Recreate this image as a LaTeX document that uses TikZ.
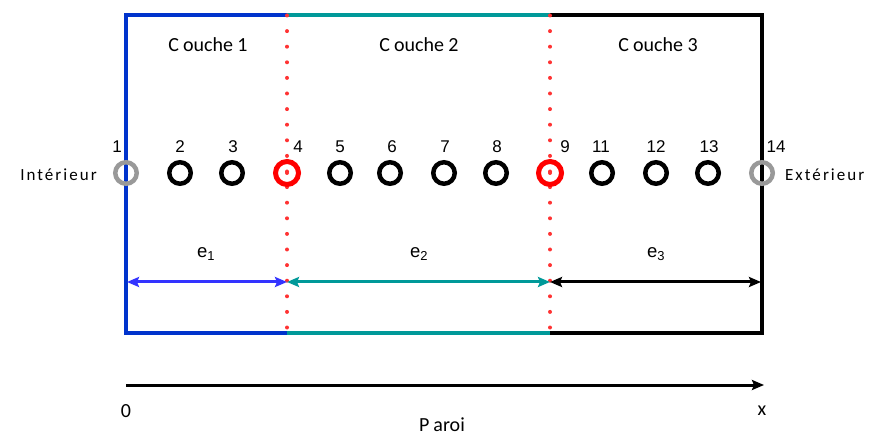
\documentclass[tikz,border=0pt]{standalone}
\usepackage{fontspec}
\setmainfont{Liberation Sans}
\newfontfamily\cali{Carlito}
\newfontfamily\calisp[LetterSpace=12]{Carlito}
\usetikzlibrary{arrows.meta}
\definecolor{wblue}{RGB}{0,51,204}
\definecolor{ablue}{RGB}{51,51,255}
\definecolor{wteal}{RGB}{0,153,153}
\definecolor{dred}{RGB}{255,51,51}
\definecolor{cgray}{RGB}{153,153,153}
\begin{document}
\begin{tikzpicture}[x=1pt,y=-1pt,
  txt/.style={font=\fontsize{17}{19}\selectfont, inner sep=0pt},
  etxt/.style={font=\fontsize{18.5}{20}\selectfont, inner sep=0pt},
  ttl/.style={font=\cali\fontsize{20}{22}\selectfont, inner sep=0pt},
  side/.style={font=\calisp\fontsize{17}{19}\selectfont, inner sep=0pt},
  pt/.style={circle, draw=black, line width=4.5pt, minimum size=21.5pt, inner sep=0pt},
  ptg/.style={pt, draw=cgray},
  ptr/.style={pt, draw=red, line width=5pt, minimum size=23pt},
  wall/.style={line width=4pt},
  dots/.style={dred, line width=4pt, line cap=round, dash pattern=on 0pt off 15.6pt},
  dim/.style={line width=3pt, {Stealth[length=12pt,width=10pt,inset=2pt]}-{Stealth[length=12pt,width=10pt,inset=2pt]}}
]
\useasboundingbox (0,0) rectangle (880,435);
% walls
\draw[wall, wblue] (287,15) -- (126,15) -- (126,333) -- (287,333);
\draw[wall, wteal] (287,15) -- (550,15);
\draw[wall, wteal] (287,333) -- (550,333);
\draw[wall, black] (550,15) -- (762,15) -- (762,333) -- (550,333);
% dotted interfaces
\draw[dots] (287,15.5) -- (287,333);
\draw[dots] (550,15.5) -- (550,333);
% layer titles
\node[ttl] (c1) at (208,45) {C\kern4pt ouche 1};
\node[ttl] (c2) at (419,45) {C\kern4pt ouche 2};
\node[ttl] (c3) at (658,45) {C\kern4pt ouche 3};
% points
\node[ptg] (p1) at (126,173) {};
\node[pt] (p2) at (180,173) {};
\node[pt] (p3) at (232,173) {};
\node[ptr] (p4) at (287,173) {};
\node[pt] (p5) at (340,173) {};
\node[pt] (p6) at (390,173) {};
\node[pt] (p7) at (444,173) {};
\node[pt] (p8) at (496,173) {};
\node[ptr] (p9) at (550,173) {};
\node[pt] (p11) at (602,173) {};
\node[pt] (p12) at (656,173) {};
\node[pt] (p13) at (708,173) {};
\node[ptg] (p14) at (762,173) {};
\fill[dred] (287,173) circle (2pt);
\fill[dred] (550,173) circle (2pt);
% numbers
\node[txt] (n1) at (117,147) {1};
\node[txt] (n2) at (180,147) {2};
\node[txt] (n3) at (233,147) {3};
\node[txt] (n4) at (298,147) {4};
\node[txt] (n5) at (340,147) {5};
\node[txt] (n6) at (392,147) {6};
\node[txt] (n7) at (445,147) {7};
\node[txt] (n8) at (497,147) {8};
\node[txt] (n9) at (565,147) {9};
\node[txt] (n11) at (601,147) {11};
\node[txt] (n12) at (656,147) {12};
\node[txt] (n13) at (709,147) {13};
\node[txt] (n14) at (776,147) {14};
\node[side, anchor=east] (int) at (97,175) {Intérieur};
\node[side, anchor=west] (ext) at (785,175) {E\kern2pt xtérieur};
% dimension labels
\node[etxt] (e1) at (206,254) {e\textsubscript{1}};
\node[etxt] (e2) at (419,254) {e\textsubscript{2}};
\node[etxt] (e3) at (656,254) {e\textsubscript{3}};
% dimension arrows
\coordinate (a0) at (127,282);
\coordinate (a1) at (287,282);
\coordinate (a2) at (550,282);
\coordinate (a3) at (761,282);
\draw[dim, ablue] (a0) -- (a1);
\draw[dim, wteal] (a1) -- (a2);
\draw[dim, black] (a2) -- (a3);
% axis
\coordinate (o) at (126,385);
\coordinate (xe) at (764,385);
\draw[line width=3pt, -{Stealth[length=12pt,width=10pt,inset=2pt]}] (o) -- (xe);
\node[ttl] (zero) at (126,411) {0};
\node[ttl] (xl) at (762,411) {x};
\node[font=\cali\fontsize{20}{22}\selectfont, inner sep=0pt, anchor=base] (paroi) at (442,431) {P\kern4pt aroi};
\end{tikzpicture}
\end{document}
